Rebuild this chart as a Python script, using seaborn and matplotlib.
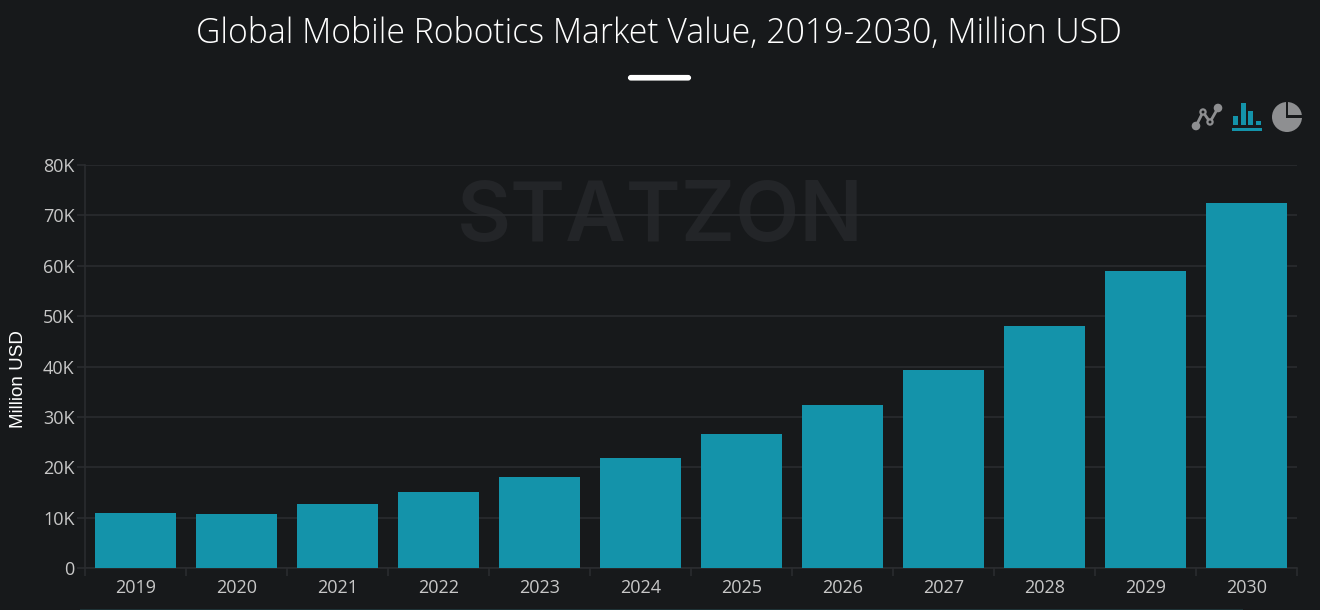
import pandas as pd
import seaborn as sns
import matplotlib.pyplot as plt
from matplotlib.patches import Circle, FancyBboxPatch, Rectangle
from matplotlib.ticker import FuncFormatter

years = ["2019", "2020", "2021", "2022", "2023", "2024", "2025", "2026", "2027", "2028", "2029", "2030"]
market_value = [10900, 10700, 12700, 15100, 18050, 21800, 26600, 32300, 39300, 48000, 58900, 72400]
y_ticks = [0, 10000, 20000, 30000, 40000, 50000, 60000, 70000, 80000]

BG = "#17191b"
GRID = "#2a2c2f"
BAR = "#1493aa"
W, H = 1320, 610


def fmt_k(v, pos):
    return "0" if v == 0 else f"{int(v / 1000)}K"


def draw_icons(over):
    # line / bar / pie switcher, top right
    grey = "#8e8f91"
    pts = [(1196, 126), (1203, 112), (1210, 122), (1218, 108)]
    over.plot([p[0] for p in pts], [p[1] for p in pts], color=grey, lw=2)
    over.add_patch(Circle(pts[0], 3.6, color=grey))
    over.add_patch(Circle(pts[3], 3.6, color=grey))
    for p in pts[1:3]:
        over.add_patch(Circle(p, 2.6, fc=BG, ec=grey, lw=1.6, zorder=3))
    for x, top in [(1233, 116), (1241, 103), (1248, 111), (1256, 121)]:
        over.add_patch(Rectangle((x, top), 5, 125 - top, color=BAR, lw=0))
    over.add_patch(Rectangle((1232, 128), 30, 2.6, color=BAR, lw=0))
    over.add_patch(Circle((1287, 117), 15, color=grey, lw=0))
    over.add_patch(Rectangle((1285.5, 101), 2.6, 17, color=BG, lw=0))
    over.add_patch(Rectangle((1285.5, 115.4), 18, 2.6, color=BG, lw=0))


sns.set_theme(style="dark", rc={"figure.facecolor": BG, "axes.facecolor": BG})
plt.rcParams["font.family"] = ["Open Sans", "DejaVu Sans"]

df = pd.DataFrame({"year": years, "value": market_value})

fig = plt.figure(figsize=(W / 100, H / 100), dpi=100)
ax = fig.add_axes([85 / W, 1 - 568 / H, (1297 - 85) / W, (568 - 165) / H])

sns.barplot(data=df, x="year", y="value", color=BAR, saturation=1, width=0.8, linewidth=0, ax=ax, zorder=3)
ax.set_xlim(-0.5, 11.5)
ax.set_ylim(0, 80000)
ax.set_yticks(y_ticks)
ax.yaxis.set_major_formatter(FuncFormatter(fmt_k))
ax.grid(axis="y", color=GRID, lw=1.2)
ax.set_axisbelow(True)
ax.set_xlabel("")
ax.set_ylabel("Million USD", color="white", fontsize=13.5, family="Liberation Sans")
ax.yaxis.set_label_coords(-0.0475, 0.47)
ax.tick_params(axis="y", colors="#c8c8c8", labelsize=13, length=6, width=1.2, color=GRID, pad=1.5, left=True)
ax.tick_params(axis="x", labelcolor="#c8c8c8", labelsize=13, length=0, pad=8)
# ticks sit between the bars like a category band axis
ax.set_xticks([i - 0.5 for i in range(13)], minor=True)
ax.tick_params(axis="x", which="minor", length=6, width=1.2, color=GRID, bottom=True)
for s in ["top", "right"]:
    ax.spines[s].set_visible(False)
for s in ["left", "bottom"]:
    ax.spines[s].set_color(GRID)
    ax.spines[s].set_linewidth(1.2)

# watermark sits under the grid
ax.text(0.4744, 0.866, "STATZON", transform=ax.transAxes, ha="center", va="center", color="#232528",
        fontsize=60, family="Inter", fontweight="semibold", zorder=0.4)

fig.text(659 / W, 1 - 34 / H, "Global Mobile Robotics Market Value, 2019-2030, Million USD", color="white",
         fontsize=24.3, family="Open Sans", fontweight="light", ha="center", va="center")

over = fig.add_axes([0, 0, 1, 1], facecolor="none")
over.set_xlim(0, W)
over.set_ylim(H, 0)
over.set_axis_off()
over.add_patch(FancyBboxPatch((630, 77), 59, 1.5, boxstyle="round,pad=0,rounding_size=1", fc="white", ec="white", lw=3))
over.add_patch(Rectangle((80, 609), 1163, 1, color="#1e3236", lw=0))
draw_icons(over)

fig.savefig("out.png", dpi=100, facecolor=BG)
